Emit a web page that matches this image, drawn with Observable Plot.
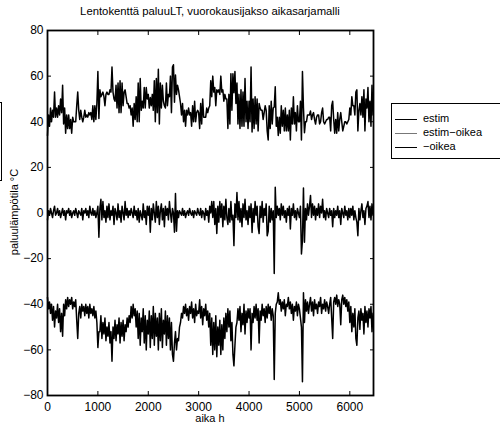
<!DOCTYPE html>
<html>
<head>
<meta charset="utf-8">
<script src="https://cdn.jsdelivr.net/npm/d3@7"></script>
<script src="https://cdn.jsdelivr.net/npm/@observablehq/plot@0.6"></script>
<style>
  html, body { margin: 0; padding: 0; background: #fff; }
  body {
    position: relative; width: 500px; height: 427px; overflow: hidden;
    font-family: "Liberation Sans", Arial, Helvetica, sans-serif; color: #000;
  }
  #chart { position: absolute; left: 0; top: 0; }
  #title { position: absolute; left: 0; width: 420px; top: 5px; text-align: center; font-size: 11.3px; }
  #xlabel { position: absolute; left: 0; width: 420px; top: 412px; text-align: center; font-size: 11px; }
  #ylabel {
    position: absolute; left: 14px; top: 212px; font-size: 11px; white-space: nowrap;
    transform: translate(-50%, -50%) rotate(-90deg);
  }
  #legend {
    position: absolute; left: 391px; top: 103px; width: 130px; height: 56px;
    box-sizing: border-box; border: 1px solid #000; background: #fff; font-size: 11px;
  }
  .row { position: absolute; left: 3px; height: 14px; line-height: 14px; white-space: nowrap; }
  .row .sw { display: inline-block; width: 22px; height: 0; border-top: 1px solid #000; vertical-align: middle; margin-right: 6px; }
  #sidebox {
    position: absolute; left: -60px; top: 102px; width: 62px; height: 79px;
    box-sizing: border-box; border: 1px solid #000;
  }
</style>
</head>
<body>
<div id="chart"></div>
<div id="title">Lentokenttä paluuLT, vuorokausijakso aikasarjamalli</div>
<div id="xlabel">aika h</div>
<div id="ylabel">paluulämpötila °C</div>
<div id="sidebox"></div>
<div id="legend"></div>
<script>
// Sampling step of the series, hours
const aikaAskel = 20;

// Measured return temperature (oikea), °C, one value per 20 h
const oikea = [
  37,42,39,44,40,47,41,50,43,46,
  40,48,42,52,44,54,40,45,38,42,
  37,41,38,40,37,42,39,41,38,47,
  55,44,41,46,40,43,41,45,40,44,
  41,46,40,44,42,45,41,46,43,48,
  59,52,52,45,55,48,53,46,56,50,
  54,48,57,52,65,50,55,47,56,49,
  53,46,57,48,54,47,56,49,52,46,
  50,45,48,41,46,40,45,42,50,43,
  55,44,58,46,52,42,57,45,60,47,
  53,43,59,45,55,41,58,44,54,46,
  60,44,56,42,59,47,53,43,58,45,
  55,46,60,48,62,65,57,52,60,55,
  56,50,48,44,46,41,44,40,45,42,
  47,41,44,39,46,42,48,40,45,43,
  44,38,46,41,49,42,45,40,47,43,
  50,44,58,46,62,48,60,45,63,50,
  58,47,62,49,60,46,55,44,52,42,
  50,43,56,48,62,67,58,50,48,42,
  47,41,52,44,49,40,53,43,48,42,
  46,42,60,44,48,41,46,40,47,42,
  57,43,47,40,45,42,48,41,46,40,
  44,41,47,42,45,73,44,40,39,35,
  40,38,43,39,42,38,45,40,41,37,
  42,39,44,40,47,41,43,39,45,40,
  42,46,50,74,35,48,38,43,39,44,
  40,37,43,39,45,38,42,40,44,39,
  41,37,44,40,42,38,43,39,41,44,
  40,37,46,55,39,37,40,36,41,38,
  40,49,38,36,40,37,41,38,43,39,
  48,41,52,44,50,42,55,58,46,43,
  51,42,47,44,53,41,48,43,50,42,
  46,41,52,44
];

// Model error (estim − oikea), °C
const virhe = [
  -3,1,-1,2,0,-2,1,3,-1,0,
  2,-1,1,-2,0,2,-1,1,-3,1,
  0,2,-1,1,-2,0,1,-1,2,0,
  -2,1,0,-1,2,-3,1,0,2,-1,
  1,-2,3,0,-1,2,-1,1,-2,0,
  3,-10.6,2,6,-3,5,-2,1,-4,3,
  -2,4,-3,1,-1,3,-5,2,0,-3,
  4,-2,1,-4,3,0,-3,5,-1,2,
  -2,1,-1,2,0,-2,3,-1,1,-3,
  2,-4,1,-1,-3,4,-2,1,-5,3,
  -1,3,-8.4,2,-3,4,0,-4,5,-2,
  3,-5,1,4,-3,2,-6,3,-1,2,
  -3,5,0,-4,2,0,-8.4,8.5,-8,1,
  -2,1,0,-1,2,-1,1,-2,0,1,
  -1,2,0,-1,1,-2,1,0,-1,2,
  0,-1,2,-2,1,0,-3,2,-1,1,
  -4,3,0,5,-2,5,-5,2,-9,3,
  -4,5,-2,4,-6,3,-3,6,-2,-5,
  2,-4,5,-3,-1,-14.3,4,-2,9,-3,
  5,-4,2,-6,4,-2,6,-3,1,-5,
  3,-2,4,-8.5,2,-4,5,-1,3,-6,
  -9,3,-2,5,-4,2,-1,4,-10,-8,
  3,-4,2,-3,1,-26.5,11.3,-2,3,-1,
  2,-3,4,-1,3,-2,1,-4,2,-1,
  3,-7,2,-1,4,-2,1,-3,2,0,
  -2,3,-18,-12,11,-12.8,2,-3,4,-1,
  3,7.7,-2,4,-1,3,-3,2,-1,4,
  -2,3,0,6,-2,1,-3,2,0,-2,
  2,-1,1,-6,2,-2,1,-1,3,-2,
  1,-5,2,0,-2,3,-1,1,-3,2,
  -2,2,-1,3,-3,1,-2,-4,-10,2,
  -3,1,4,-2,1,-5,2,3,5,-2,
  3,-3,4,-1
];

// Axis ticks
const xTicks = [0, 1000, 2000, 3000, 4000, 5000, 6000];
const yTicks = [-80, -60, -40, -20, 0, 20, 40, 60, 80];
const xDomain = [0, 6470];
const yDomain = [-80, 80];

// Legend entries
const sarjat = ["estim", "estim−oikea", "−oikea"];
const sarjaVarit = ["#000", "#777", "#000"];

const aika = oikea.map((_, i) => i * aikaAskel);
const estim = oikea.map((v, i) => v + virhe[i]);
const miinusOikea = oikea.map(v => -v);

const lineOpts = {stroke: "#000", strokeWidth: 1.5};
const numero = d3.format("d");
const tyhja = () => "";

const chart = Plot.plot({
  width: 380,
  height: 427,
  marginLeft: 47,
  marginRight: 7,
  marginTop: 30,
  marginBottom: 32,
  style: {fontFamily: "'Liberation Sans', Arial, sans-serif", fontSize: "12px", color: "#000", background: "transparent"},
  x: {domain: xDomain},
  y: {domain: yDomain},
  marks: [
    Plot.lineY(estim, {x: aika, ...lineOpts}),
    Plot.lineY(virhe, {x: aika, ...lineOpts}),
    Plot.lineY(miinusOikea, {x: aika, ...lineOpts}),
    Plot.frame({stroke: "#000", strokeWidth: 1.8}),
    Plot.axisX(xTicks, {anchor: "bottom", tickSize: -4, tickPadding: 11, tickFormat: numero, label: null}),
    Plot.axisX(xTicks, {anchor: "top", tickSize: -4, tickFormat: tyhja, label: null}),
    Plot.axisY(yTicks, {anchor: "left", tickSize: -4, tickPadding: 8, tickFormat: numero, label: null}),
    Plot.axisY(yTicks, {anchor: "right", tickSize: -4, tickFormat: tyhja, label: null})
  ]
});
document.getElementById("chart").appendChild(chart);

const legend = document.getElementById("legend");
sarjat.forEach((nimi, i) => {
  const row = document.createElement("div");
  row.className = "row";
  row.style.top = (7 + i * 14) + "px";
  const sw = document.createElement("span");
  sw.className = "sw";
  sw.style.borderTopColor = sarjaVarit[i];
  row.appendChild(sw);
  row.appendChild(document.createTextNode(nimi));
  legend.appendChild(row);
});
</script>
</body>
</html>
